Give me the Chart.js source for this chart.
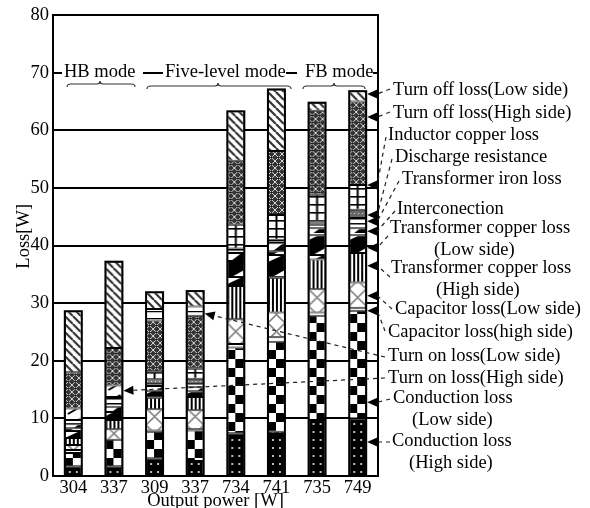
<!DOCTYPE html>
<html>
<head>
<meta charset="utf-8">
<script src="https://cdn.jsdelivr.net/npm/chart.js@4.4.0/dist/chart.umd.min.js"></script>
<style>
  html, body { margin: 0; padding: 0; background: #fff; }
  #wrap { width: 590px; height: 508px; }
</style>
</head>
<body>
<div id="wrap"><canvas id="lossChart" width="590" height="508"></canvas></div>
<script>
// categories (output power, W)
const outputPower = ["304", "337", "309", "337", "734", "741", "735", "749"];

// loss components, bottom of the stack first [W]
const conductionHigh = [1.7, 1.7, 3.1, 2.6, 7.4, 7.7, 9.7, 10.0];
const conductionLow = [2.3, 4.6, 4.6, 5.3, 14.9, 15.6, 18.1, 18.7];
const capacitorHigh = [0.5, 0, 0.2, 0.2, 0.6, 0.8, 0.6, 0.5];
const capacitorLow = [0.9, 1.8, 3.7, 3.3, 4.3, 4.3, 4.0, 4.4];
const trCopperHigh = [1.2, 1.6, 2.0, 2.3, 5.8, 6.0, 5.2, 5.1];
const trCopperLow = [1.7, 1.4, 1.2, 1.0, 4.3, 4.6, 4.2, 3.1];
const interconnection = [0.7, 0.9, 0.8, 0.7, 1.4, 1.4, 1.2, 1.2];
const trIron = [0.7, 1.7, 0.6, 0.8, 0.5, 0.3, 0.6, 1.8];
const discharge = [0, 0, 0.6, 0.7, 0.3, 0.3, 0.6, 1.4];
const inductorCopper = [0, 0, 1.4, 1.7, 4.1, 4.3, 4.6, 4.3];
const turnOnHigh = [2.0, 2.0, 0, 0, 0, 0, 0, 0];
const turnOffHigh = [6.3, 6.5, 8.8, 9.2, 11.1, 11.1, 14.6, 14.5];
const turnOnLow = [0, 0, 2.0, 1.6, 0, 0, 0, 0];
const turnOffLow = [10.6, 15.0, 2.9, 2.7, 8.6, 10.7, 1.4, 1.8];

const BAR_W = 17;
const FONT = "'Liberation Serif', 'Times New Roman', serif";

// tile drawings for the hatch fills
const tiles = {
	dots: [17, 8, (g) => {
		g.fillStyle = "#000"; g.fillRect(0, 0, 17, 8);
		g.fillStyle = "#bbb"; g.fillRect(4, 3, 2, 2); g.fillRect(11, 3, 2, 2);
	}],
	checker: [17, 18, (g) => {
		g.fillStyle = "#fff"; g.fillRect(0, 0, 17, 18);
		g.fillStyle = "#000"; g.fillRect(0, 0, 8, 9); g.fillRect(8, 9, 9, 9);
	}],
	plain: [4, 4, (g) => { g.fillStyle = "#fff"; g.fillRect(0, 0, 4, 4); }],
	cross: [17, 17, (g) => {
		g.fillStyle = "#fff"; g.fillRect(0, 0, 17, 17);
		g.strokeStyle = "#888"; g.lineWidth = 1.6;
		g.beginPath(); g.moveTo(0, 0); g.lineTo(17, 17); g.moveTo(17, 0); g.lineTo(0, 17); g.stroke();
	}],
	vstripes: [4, 4, (g) => {
		g.fillStyle = "#fff"; g.fillRect(0, 0, 4, 4);
		g.fillStyle = "#000"; g.fillRect(0, 0, 2, 4);
	}],
	wedgeBlack: [17, 22, (g) => {
		g.fillStyle = "#000"; g.fillRect(0, 0, 17, 22);
		g.fillStyle = "#fff";
		g.beginPath(); g.moveTo(0, 0); g.lineTo(13, 0); g.lineTo(0, 6); g.fill();
		g.beginPath(); g.moveTo(17, 14); g.lineTo(17, 20); g.lineTo(6, 20); g.fill();
	}],
	wedgeWhite: [17, 9, (g) => {
		g.fillStyle = "#fff"; g.fillRect(0, 0, 17, 9);
		g.fillStyle = "#000";
		g.beginPath(); g.moveTo(17, 0); g.lineTo(17, 9); g.lineTo(5, 9); g.fill();
	}],
	hlines: [4, 5, (g) => {
		g.fillStyle = "#fff"; g.fillRect(0, 0, 4, 5);
		g.fillStyle = "#000"; g.fillRect(0, 2, 4, 1.5);
	}],
	dim: [4, 4, (g) => {
		g.fillStyle = "#666"; g.fillRect(0, 0, 4, 4);
		g.fillStyle = "#eee"; g.fillRect(1, 1, 1, 1);
	}],
	grid: [17, 8, (g) => {
		g.fillStyle = "#fff"; g.fillRect(0, 0, 17, 8);
		g.fillStyle = "#000"; g.fillRect(7.5, 0, 2, 8); g.fillRect(0, 0, 17, 1.6);
	}],
	slash: [17, 12, (g) => {
		g.fillStyle = "#fff"; g.fillRect(0, 0, 17, 12);
		g.strokeStyle = "#000"; g.lineWidth = 2;
		g.beginPath(); g.moveTo(3, 10); g.lineTo(15, 3); g.stroke();
	}],
	mesh: [7, 7, (g) => {
		g.fillStyle = "#333"; g.fillRect(0, 0, 7, 7);
		g.strokeStyle = "#d8d8d8"; g.lineWidth = 1;
		g.beginPath(); g.moveTo(0, 0); g.lineTo(7, 7); g.moveTo(7, 0); g.lineTo(0, 7); g.stroke();
		g.fillStyle = "#111"; g.fillRect(3, 3, 1, 1);
	}],
	band: [17, 7, (g) => {
		g.fillStyle = "#fff"; g.fillRect(0, 0, 17, 7);
		g.fillStyle = "#000"; g.fillRect(0, 3, 17, 1.2);
	}],
	diag: [8, 8, (g) => {
		g.fillStyle = "#fff"; g.fillRect(0, 0, 8, 8);
		g.strokeStyle = "#333"; g.lineWidth = 2.2;
		g.beginPath();
		for (const k of [-8, 0, 8]) { g.moveTo(k, 0); g.lineTo(k + 8, 8); }
		g.stroke();
	}],
};

const tileCanvases = {};
const patternCache = {};

function getPattern(kind, chart, index) {
	const area = chart.chartArea;
	const xs = chart.scales && chart.scales.x;
	if (!area || !xs || index === undefined) return "#fff";
	const key = kind + "_" + index;
	if (patternCache[key]) return patternCache[key];
	if (!tileCanvases[kind]) {
		const [w, h, draw] = tiles[kind];
		const c = document.createElement("canvas");
		c.width = w; c.height = h;
		draw(c.getContext("2d"));
		tileCanvases[kind] = c;
	}
	const pattern = chart.ctx.createPattern(tileCanvases[kind], "repeat");
	const left = xs.getPixelForValue(index) - BAR_W / 2;
	pattern.setTransform(new DOMMatrix().translate(left, area.bottom));
	patternCache[key] = pattern;
	return pattern;
}

const series = [
	{ label: "Conduction loss (High side)", data: conductionHigh, fill: "dots" },
	{ label: "Conduction loss (Low side)", data: conductionLow, fill: "checker" },
	{ label: "Capacitor loss(high side)", data: capacitorHigh, fill: "plain" },
	{ label: "Capacitor loss(Low side)", data: capacitorLow, fill: "cross" },
	{ label: "Transformer copper loss (High side)", data: trCopperHigh, fill: "vstripes" },
	{ label: "Transformer copper loss (Low side)", data: trCopperLow, fill: "wedgeBlack" },
	{ label: "Interconection", data: interconnection, fill: "wedgeWhite" },
	{ label: "Transformer iron loss", data: trIron, fill: "hlines" },
	{ label: "Discharge resistance", data: discharge, fill: "dim" },
	{ label: "Inductor copper loss", data: inductorCopper, fill: "grid" },
	{ label: "Turn on loss(High side)", data: turnOnHigh, fill: "slash" },
	{ label: "Turn off loss(High side)", data: turnOffHigh, fill: "mesh" },
	{ label: "Turn on loss(Low side)", data: turnOnLow, fill: "band" },
	{ label: "Turn off loss(Low side)", data: turnOffLow, fill: "diag" },
];

// call-outs on the right: text lines, text anchor, target bar and value
// flat: arrow head points straight left, leader runs from its base to the text
const notes = [
	{ lines: ["Turn off loss(Low side)"], tx: 393, ty: 95, bar: 7, value: 66.3, from: [390, 89], flat: true },
	{ lines: ["Turn off loss(High side)"], tx: 393, ty: 118, bar: 7, value: 62.3, from: [390, 112], flat: true },
	{ lines: ["Inductor copper loss"], tx: 388, ty: 140, bar: 7, value: 50.5, from: [386, 137], flat: true },
	{ lines: ["Discharge resistance"], tx: 395, ty: 162, bar: 7, value: 45.3, from: [392, 159], flat: true },
	{ lines: ["Transformer iron loss"], tx: 402, ty: 184, bar: 7, value: 44.2, from: [399, 181], flat: true },
	{ lines: ["Interconection"], tx: 397, ty: 214, bar: 7, value: 42.5, from: [395, 211], flat: true },
	{ lines: ["Transformer copper loss", "(Low side)"], tx: 390, ty: 233, dx2: 44, bar: 7, value: 39.6, from: [388, 236], flat: true },
	{ lines: ["Transformer copper loss", "(High side)"], tx: 391, ty: 273, dx2: 45, bar: 7, value: 36.5, from: [390, 277], flat: true },
	{ lines: ["Capacitor loss(Low side)"], tx: 395, ty: 314, bar: 7, value: 31.3, from: [392, 309], flat: true },
	{ lines: ["Capacitor loss(high side)"], tx: 388, ty: 337, bar: 7, value: 28.7, from: [385, 331], flat: true },
	{ lines: ["Turn on loss(Low side)"], tx: 388, ty: 361, bar: 3, value: 28.2, from: [385, 357], flat: false },
	{ lines: ["Turn on loss(High side)"], tx: 388, ty: 383, bar: 1, value: 14.8, from: [385, 378], flat: false },
	{ lines: ["Conduction loss", "(Low side)"], tx: 393, ty: 403, dx2: 19, bar: 7, value: 12.8, from: [390, 399], flat: true },
	{ lines: ["Conduction loss", "(High side)"], tx: 392, ty: 446, dx2: 17, bar: 7, value: 5.9, from: [390, 442], flat: true },
];

const modes = [
	{ text: "HB mode", x: 64, box: [62, 143], brace: [67, 100, 135], by: 84 },
	{ text: "Five-level mode", x: 165, box: [163, 286], brace: [147, 218, 291], by: 86 },
	{ text: "FB mode", x: 305, box: [297, 373], brace: [303, 334, 365], by: 86 },
];

function brace(g, x1, xc, x2, y) {
	g.beginPath();
	g.moveTo(x1, y + 3);
	g.quadraticCurveTo(x1, y, x1 + 4, y);
	g.lineTo(xc - 3, y);
	g.quadraticCurveTo(xc, y, xc, y - 3);
	g.quadraticCurveTo(xc, y, xc + 3, y);
	g.lineTo(x2 - 4, y);
	g.quadraticCurveTo(x2, y, x2, y + 3);
	g.stroke();
}

const decorPlugin = {
	id: "decor",
	afterDatasetsDraw(chart) {
		const g = chart.ctx;
		g.save();
		g.strokeStyle = "#000";
		g.lineWidth = 2;
		for (let i = 0; i < outputPower.length; i++) {
			let top = Infinity, base = -Infinity, x = 0, w = 0;
			chart.data.datasets.forEach((ds, d) => {
				if (!(ds.data[i] > 0)) return;
				const el = chart.getDatasetMeta(d).data[i];
				top = Math.min(top, el.y);
				base = Math.max(base, el.base);
				x = el.x; w = el.width;
			});
			g.strokeRect(x - w / 2, top, w, base - top);
		}
		g.restore();
	},
	afterDraw(chart) {
		const g = chart.ctx;
		const area = chart.chartArea;
		const xs = chart.scales.x, ys = chart.scales.y;
		g.save();
		// right frame line
		g.strokeStyle = "#000";
		g.lineWidth = 2;
		g.beginPath(); g.moveTo(area.right, area.top - 1); g.lineTo(area.right, area.bottom); g.stroke();

		// mode labels over the 70 W line
		const y70 = ys.getPixelForValue(70);
		g.font = "18.5px " + FONT;
		g.textBaseline = "alphabetic";
		g.textAlign = "left";
		for (const m of modes) {
			g.fillStyle = "#fff";
			g.fillRect(m.box[0], y70 - 3, m.box[1] - m.box[0], 6);
			g.fillStyle = "#000";
			g.fillText(m.text, m.x, y70 + 4);
			g.strokeStyle = "#333";
			g.lineWidth = 1.2;
			brace(g, m.brace[0], m.brace[1], m.brace[2], m.by);
		}

		// call-out texts, dashed leaders and arrow heads
		for (const n of notes) {
			g.fillStyle = "#000";
			g.fillText(n.lines[0], n.tx, n.ty);
			if (n.lines[1]) g.fillText(n.lines[1], n.tx + n.dx2, n.ty + 22);

			const tipX = xs.getPixelForValue(n.bar) + BAR_W / 2 + 1;
			const tipY = ys.getPixelForValue(n.value);
			const [fx, fy] = n.from;
			let ux = -1, uy = 0;
			if (!n.flat) {
				const len = Math.hypot(tipX - fx, tipY - fy);
				ux = (tipX - fx) / len; uy = (tipY - fy) / len;
			}
			const bx = tipX - ux * 10, by = tipY - uy * 10;
			g.strokeStyle = "#222";
			g.lineWidth = 1.2;
			g.setLineDash([4, 4]);
			g.beginPath(); g.moveTo(fx, fy); g.lineTo(bx, by); g.stroke();
			g.setLineDash([]);
			g.fillStyle = "#000";
			g.beginPath();
			g.moveTo(tipX, tipY);
			g.lineTo(bx - uy * 4.5, by + ux * 4.5);
			g.lineTo(bx + uy * 4.5, by - ux * 4.5);
			g.closePath();
			g.fill();
		}
		g.restore();
	},
};

Chart.defaults.font.family = FONT;
Chart.defaults.font.size = 18.5;
Chart.defaults.color = "#000";

new Chart(document.getElementById("lossChart"), {
	type: "bar",
	data: {
		labels: outputPower,
		datasets: series.map((s) => ({
			label: s.label,
			data: s.data,
			backgroundColor: (c) => getPattern(s.fill, c.chart, c.dataIndex),
			borderColor: "#000",
			borderWidth: 1,
			borderSkipped: false,
			inflateAmount: 0,
			barThickness: BAR_W,
		})),
	},
	options: {
		responsive: false,
		animation: false,
		layout: { padding: { left: 0, right: 212, top: 12, bottom: 0 } },
		plugins: { legend: { display: false }, tooltip: { enabled: false } },
		scales: {
			x: {
				stacked: true,
				grid: { display: false, drawTicks: false },
				border: { color: "#000", width: 2 },
				ticks: { padding: 1, maxRotation: 0, autoSkip: false },
				title: { display: true, text: "Output power [W]", padding: { top: 0, bottom: -4 } },
				afterFit: (s) => { s.height = 32; },
			},
			y: {
				stacked: true,
				min: 0,
				max: 80,
				grid: { color: "#000", lineWidth: 2, drawTicks: false },
				border: { color: "#000", width: 2 },
				ticks: { stepSize: 10, padding: 4 },
				title: { display: true, text: "    Loss[W]", padding: { top: 13, bottom: 0 } },
				afterFit: (s) => { s.width = 53; },
			},
		},
	},
	plugins: [decorPlugin],
});
</script>
</body>
</html>
